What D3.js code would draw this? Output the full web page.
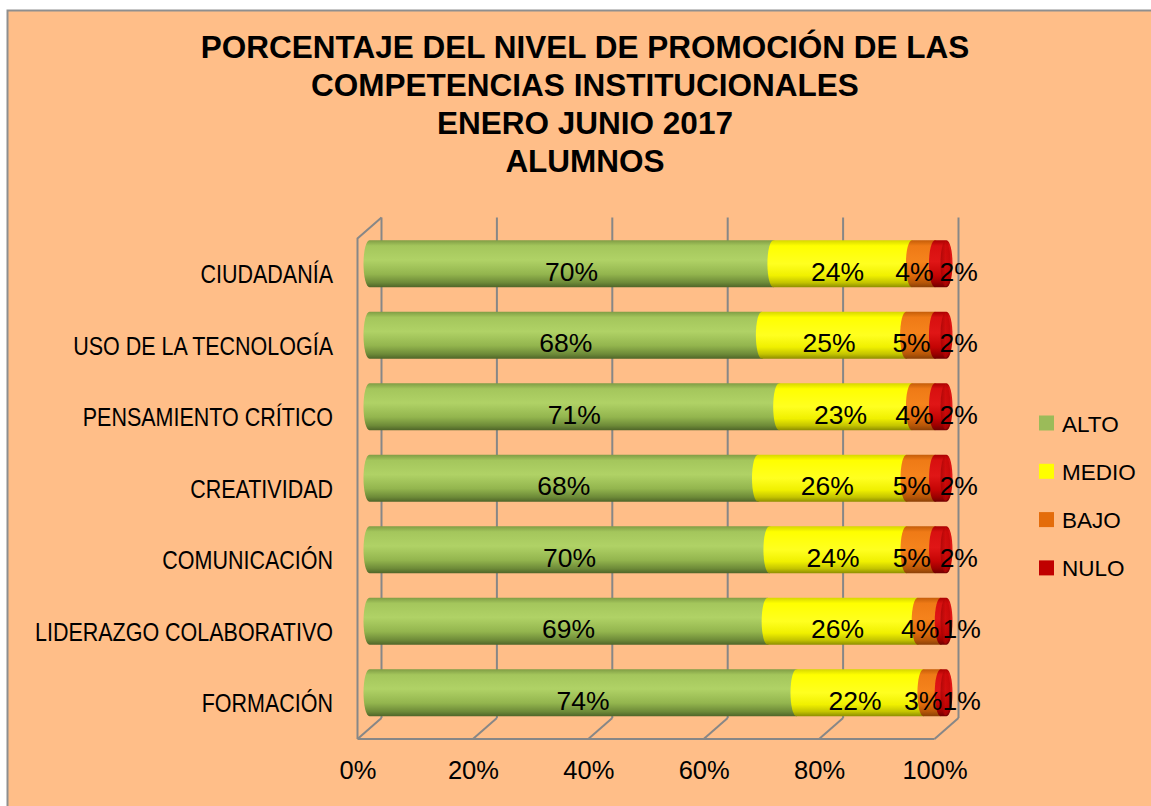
<!DOCTYPE html>
<html>
<head>
<meta charset="utf-8">
<script src="https://cdn.jsdelivr.net/npm/d3@7"></script>
<style>
  body { margin: 0; background: #fff; }
  svg { display: block; }
</style>
</head>
<body>
<svg id="chart" width="1151" height="806"></svg>
<script>
// --- data ---
const categories = ["CIUDADANÍA", "USO DE LA TECNOLOGÍA", "PENSAMIENTO CRÍTICO", "CREATIVIDAD",
                    "COMUNICACIÓN", "LIDERAZGO COLABORATIVO", "FORMACIÓN"];
const seriesNames = ["ALTO", "MEDIO", "BAJO", "NULO"];
const alto  = [70, 68, 71, 68, 70, 69, 74];
const medio = [24, 25, 23, 26, 24, 26, 22];
const bajo  = [4, 5, 4, 5, 5, 4, 3];
const nulo  = [2, 2, 2, 2, 2, 1, 1];
const xTicks = [0, 0.2, 0.4, 0.6, 0.8, 1];
const titleLines = ["PORCENTAJE DEL NIVEL DE PROMOCIÓN DE LAS", "COMPETENCIAS INSTITUCIONALES",
                    "ENERO JUNIO 2017", "ALUMNOS"];

const rows = categories.map((c, i) => ({ cat: c, ALTO: alto[i], MEDIO: medio[i], BAJO: bajo[i], NULO: nulo[i] }));

// --- styles ---
const BG = "#FFBE88";
const GRID = "#878787";
const FONT = "'Liberation Sans', Arial, sans-serif";
const NARROW_SCALE = 0.86;   // no narrow face installed, squeeze the regular one
const legendColors = { ALTO: "#9BBB59", MEDIO: "#FFFF00", BAJO: "#E46C0A", NULO: "#C00000" };
const gradStops = {
  ALTO:  [[0, "#7f9c44"], [0.12, "#a4c65c"], [0.42, "#b0d266"], [0.72, "#93b54e"], [0.9, "#6d8a38"], [1, "#4e6428"]],
  MEDIO: [[0, "#d6d600"], [0.12, "#ffff00"], [0.5, "#ffff20"], [0.75, "#f0f000"], [0.9, "#c4c400"], [1, "#8c8c00"]],
  BAJO:  [[0, "#c45c08"], [0.12, "#ef7a16"], [0.45, "#f5831c"], [0.75, "#de6a0a"], [0.9, "#b65608"], [1, "#8a4006"]],
  NULO:  [[0, "#a80000"], [0.12, "#d81010"], [0.45, "#e01616"], [0.75, "#c40404"], [0.9, "#9a0000"], [1, "#6e0000"]]
};
// label nudges per series (px) for the small end segments
const labelDx = { ALTO: 0, MEDIO: -5, BAJO: -9, NULO: 18 };

const DX = 12, DY = 10.5;   // half the 3D depth offset (front = mid - DX, mid + DY)
const RX = 6;               // cylinder cap radius along x

const svg = d3.select("#chart");
const defs = svg.append("defs");

// background panel
svg.append("rect")
  .attr("x", 7.5).attr("y", 10.5).attr("width", 1150).attr("height", 800)
  .attr("fill", BG).attr("stroke", "#8f8f8f").attr("stroke-width", 2);

// title
svg.append("g").selectAll("text")
  .data(titleLines).enter().append("text")
  .attr("x", 585).attr("y", (d, i) => 58 + i * 38)
  .attr("text-anchor", "middle")
  .style("font-family", FONT).style("font-weight", "bold").style("font-size", "31.5px")
  .attr("fill", "#000")
  .text(d => d);

// scales (mid-depth plane)
const x = d3.scaleLinear().domain([0, 1]).range([369.5, 946.5]);
const y = d3.scaleBand().domain(categories).range([228, 728.5]).paddingInner(0.34).paddingOuter(0.17);

const yTop = y.range()[0], yBot = y.range()[1];

// --- walls & grid ---
const grid = svg.append("g").attr("stroke", GRID).attr("stroke-width", 2).attr("fill", "none");
// back wall vertical gridlines
grid.selectAll(".back").data(xTicks).enter().append("line")
  .attr("x1", d => x(d) + DX).attr("x2", d => x(d) + DX)
  .attr("y1", yTop - DY).attr("y2", yBot - DY);
// floor diagonals
grid.selectAll(".floor").data(xTicks).enter().append("line")
  .attr("x1", d => x(d) - DX).attr("y1", yBot + DY)
  .attr("x2", d => x(d) + DX).attr("y2", yBot - DY);
// floor front edge
grid.append("line")
  .attr("x1", x(0) - DX).attr("x2", x(1) - DX)
  .attr("y1", yBot + DY).attr("y2", yBot + DY);
// left wall front edge + top
grid.append("path")
  .attr("d", `M${x(0) - DX},${yBot + DY} L${x(0) - DX},${yTop + DY} L${x(0) + DX},${yTop - DY}`);

// --- gradients ---
seriesNames.forEach(s => {
  const g = defs.append("linearGradient").attr("id", "g-" + s)
    .attr("x1", 0).attr("y1", 0).attr("x2", 0).attr("y2", 1);
  gradStops[s].forEach(([o, c]) => g.append("stop").attr("offset", o).attr("stop-color", c));
});
const capGrad = defs.append("linearGradient").attr("id", "cap-NULO")
  .attr("x1", 0).attr("y1", 0).attr("x2", 1).attr("y2", 0);
[[0, "#8a0000"], [0.5, "#c80606"], [1, "#b00000"]].forEach(([o, c]) =>
  capGrad.append("stop").attr("offset", o).attr("stop-color", c));

// --- bars ---
const stacked = d3.stack().keys(seriesNames).offset(d3.stackOffsetExpand)(rows);

const cyl = (x0, x1, yt, yb) => {
  const ry = (yb - yt) / 2;
  return `M${x0},${yt} L${x1},${yt} A${RX},${ry} 0 0 1 ${x1},${yb} L${x0},${yb} A${RX},${ry} 0 0 1 ${x0},${yt} Z`;
};

const barsG = svg.append("g");
stacked.forEach(layer => {
  barsG.append("g").selectAll("path")
    .data(layer).enter().append("path")
    .attr("d", d => cyl(x(d[0]), x(d[1]), y(d.data.cat), y(d.data.cat) + y.bandwidth()))
    .attr("fill", `url(#g-${layer.key})`);
});
// right end face of each cylinder
const last = stacked[stacked.length - 1];
barsG.append("g").selectAll("ellipse")
  .data(last).enter().append("ellipse")
  .attr("cx", d => x(d[1]) - 1)
  .attr("cy", d => y(d.data.cat) + y.bandwidth() / 2)
  .attr("rx", RX - 1).attr("ry", y.bandwidth() / 2 - 1)
  .attr("fill", "url(#cap-NULO)").attr("opacity", 0.55);

// --- data labels ---
const labelsG = svg.append("g")
  .style("font-family", FONT).style("font-size", "26.5px").attr("fill", "#000");
stacked.forEach(layer => {
  labelsG.append("g").selectAll("text")
    .data(layer).enter().append("text")
    .attr("x", d => x((d[0] + d[1]) / 2) + labelDx[layer.key])
    .attr("y", d => y(d.data.cat) + y.bandwidth() / 2 + 17)
    .attr("text-anchor", "middle")
    .text(d => d.data[layer.key] + "%");
});

// --- axes ---
const yFront = y.copy().range([yTop + DY, yBot + DY]);
const yAxis = svg.append("g")
  .attr("transform", `translate(${333},0)`)
  .call(d3.axisLeft(yFront).tickSize(0).tickPadding(0));
yAxis.select(".domain").remove();
yAxis.selectAll("text")
  .style("font-family", FONT).style("font-size", "25px").attr("fill", "#000")
  .attr("dy", "0.36em")
  .attr("transform", `scale(${NARROW_SCALE},1)`);

const xFront = d3.scaleLinear().domain([0, 1]).range([x(0) - DX, x(1) - DX]);
const xAxis = svg.append("g")
  .attr("transform", `translate(0,${yBot + DY})`)
  .call(d3.axisBottom(xFront).tickValues(xTicks).tickFormat(d3.format(".0%")).tickSize(0).tickPadding(22));
xAxis.select(".domain").remove();
xAxis.selectAll("text")
  .style("font-family", FONT).style("font-size", "25.5px").attr("fill", "#000");

// --- legend ---
const legend = svg.append("g").selectAll("g")
  .data(seriesNames).enter().append("g")
  .attr("transform", (d, i) => `translate(1039,${423 + i * 48.3})`);
legend.append("rect")
  .attr("x", 0).attr("y", -7.5).attr("width", 15).attr("height", 15)
  .attr("fill", d => legendColors[d]);
legend.append("text")
  .attr("x", 23).attr("y", 8.5)
  .style("font-family", FONT).style("font-size", "22.5px").attr("fill", "#000")
  .text(d => d);
</script>
</body>
</html>
